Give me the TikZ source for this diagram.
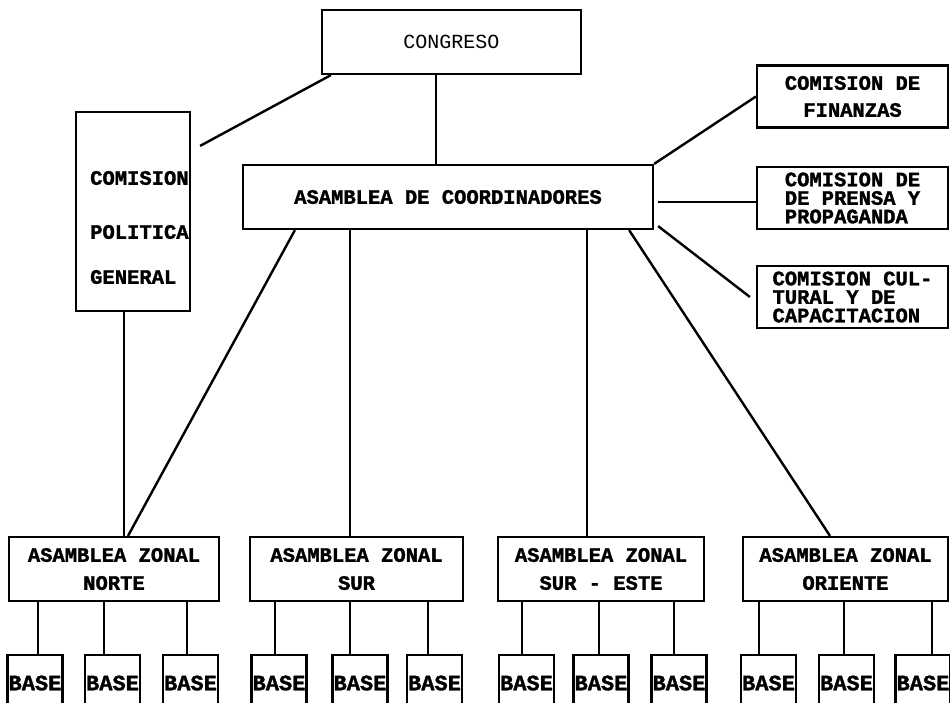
\documentclass[tikz,border=0pt]{standalone}
\usepackage{fontspec}
\setmonofont[BoldFeatures={FakeBold=1.5}]{Liberation Mono}
\begin{document}
\begin{tikzpicture}[x=1pt,y=-1pt,
  box/.style={draw, line width=2.2pt, inner sep=0pt, align=center,
    font=\ttfamily\bfseries\fontsize{20.5}{28}\selectfont},
  txt/.style={inner sep=0pt, font=\ttfamily\bfseries\fontsize{20.5}{28}\selectfont},
  zonal/.style={box, minimum height=64pt},
  basebox/.style={box, minimum width=55pt, minimum height=56pt,
    font=\ttfamily\bfseries\fontsize{22}{24}\selectfont},
  com/.style={box, minimum width=191pt, minimum height=62pt},
  conn/.style={line width=2.4pt}]
\useasboundingbox (0,0) rectangle (950,702);
\fill[white] (0,0) rectangle (950,702);
\clip (0,0) rectangle (950,702);

% top
\node[box, minimum width=259pt, minimum height=64pt,
  font=\ttfamily\fontsize{20}{24}\selectfont] (cong) at (451.5,42) {CONGRESO};
\node[box, minimum width=114pt, minimum height=199pt] (pol) at (133,211.5) {};
\node[txt, anchor=west, align=left, font=\ttfamily\bfseries\fontsize{20.5}{54}\selectfont]
  (poltxt) at (90,227.5) {COMISION\\POLITICA\\[-9pt]GENERAL};
\node[box, minimum width=410pt, minimum height=64pt] (asm) at (448,197)
  {ASAMBLEA DE COORDINADORES};

% commissions
\node[com, font=\ttfamily\bfseries\fontsize{20.5}{27}\selectfont] (fin) at (852.5,96.5)
  {COMISION DE\\ FINANZAS};
\node[com, align=left, font=\ttfamily\bfseries\fontsize{20.5}{18.5}\selectfont] (pre) at (852.5,198)
  {COMISION DE\\DE PRENSA Y\\PROPAGANDA};
\node[com, align=left, font=\ttfamily\bfseries\fontsize{20.5}{18.5}\selectfont] (cul) at (852.5,297)
  {COMISION CUL-\\TURAL Y DE\\CAPACITACION};

% zonal assemblies
\node[zonal, minimum width=210pt] (zn) at (114,569) {ASAMBLEA ZONAL\\NORTE};
\node[zonal, minimum width=213pt] (zs) at (356.5,569) {ASAMBLEA ZONAL\\SUR};
\node[zonal, minimum width=206pt] (zse) at (601,569) {ASAMBLEA ZONAL\\SUR - ESTE};
\node[zonal, minimum width=205pt] (zo) at (845.5,569) {ASAMBLEA ZONAL\\ORIENTE};

% bases
\node[basebox] (n1) at (35,683) {BASE};
\node[basebox] (n2) at (112.5,683) {BASE};
\node[basebox] (n3) at (190.5,683) {BASE};
\node[basebox] (s1) at (279,683) {BASE};
\node[basebox] (s2) at (360,683) {BASE};
\node[basebox] (s3) at (434.5,683) {BASE};
\node[basebox] (e1) at (526.5,683) {BASE};
\node[basebox] (e2) at (601,683) {BASE};
\node[basebox] (e3) at (679,683) {BASE};
\node[basebox] (o1) at (768.5,683) {BASE};
\node[basebox] (o2) at (846.5,683) {BASE};
\node[basebox] (o3) at (923,683) {BASE};

% connectors top
\draw[conn] ([xshift=10pt]cong.south west) -- ([xshift=9pt,yshift=-35pt]pol.north east);
\draw[conn] ([xshift=-15.5pt]cong.south) coordinate (c1) -- (c1 |- asm.north);
\draw[conn] (asm.north east) -- (fin.west);
\draw[conn] ([xshift=4pt,yshift=-5pt]asm.east) -- ([yshift=-4pt]pre.west);
\draw[conn] ([xshift=4pt,yshift=4pt]asm.south east) -- ([xshift=-6pt]cul.west);

% connectors to zonal
\draw[conn] ([xshift=-9pt]pol.south) coordinate (c2) -- (c2 |- zn.north);
\draw[conn] ([xshift=53pt]asm.south west) -- ([xshift=14pt]zn.north);
\draw[conn] ([xshift=-6.5pt]zs.north) coordinate (c3) -- (c3 |- asm.south);
\draw[conn] ([xshift=-14pt]zse.north) coordinate (c4) -- (c4 |- asm.south);
\draw[conn] ([xshift=-25pt]asm.south east) -- ([xshift=-15.5pt]zo.north);

% connectors to bases
\foreach \b/\z/\dx in {n1/zn/3, n2/zn/-8.5, n3/zn/-3.5,
                       s1/zs/-4, s2/zs/-10, s3/zs/-6.5,
                       e1/zse/-4.5, e2/zse/-2, e3/zse/-5,
                       o1/zo/-9.5, o2/zo/-2.5, o3/zo/9}
  \draw[conn] ([xshift=\dx pt]\b.north) coordinate (cb) -- (cb |- \z.south);
\end{tikzpicture}
\end{document}
